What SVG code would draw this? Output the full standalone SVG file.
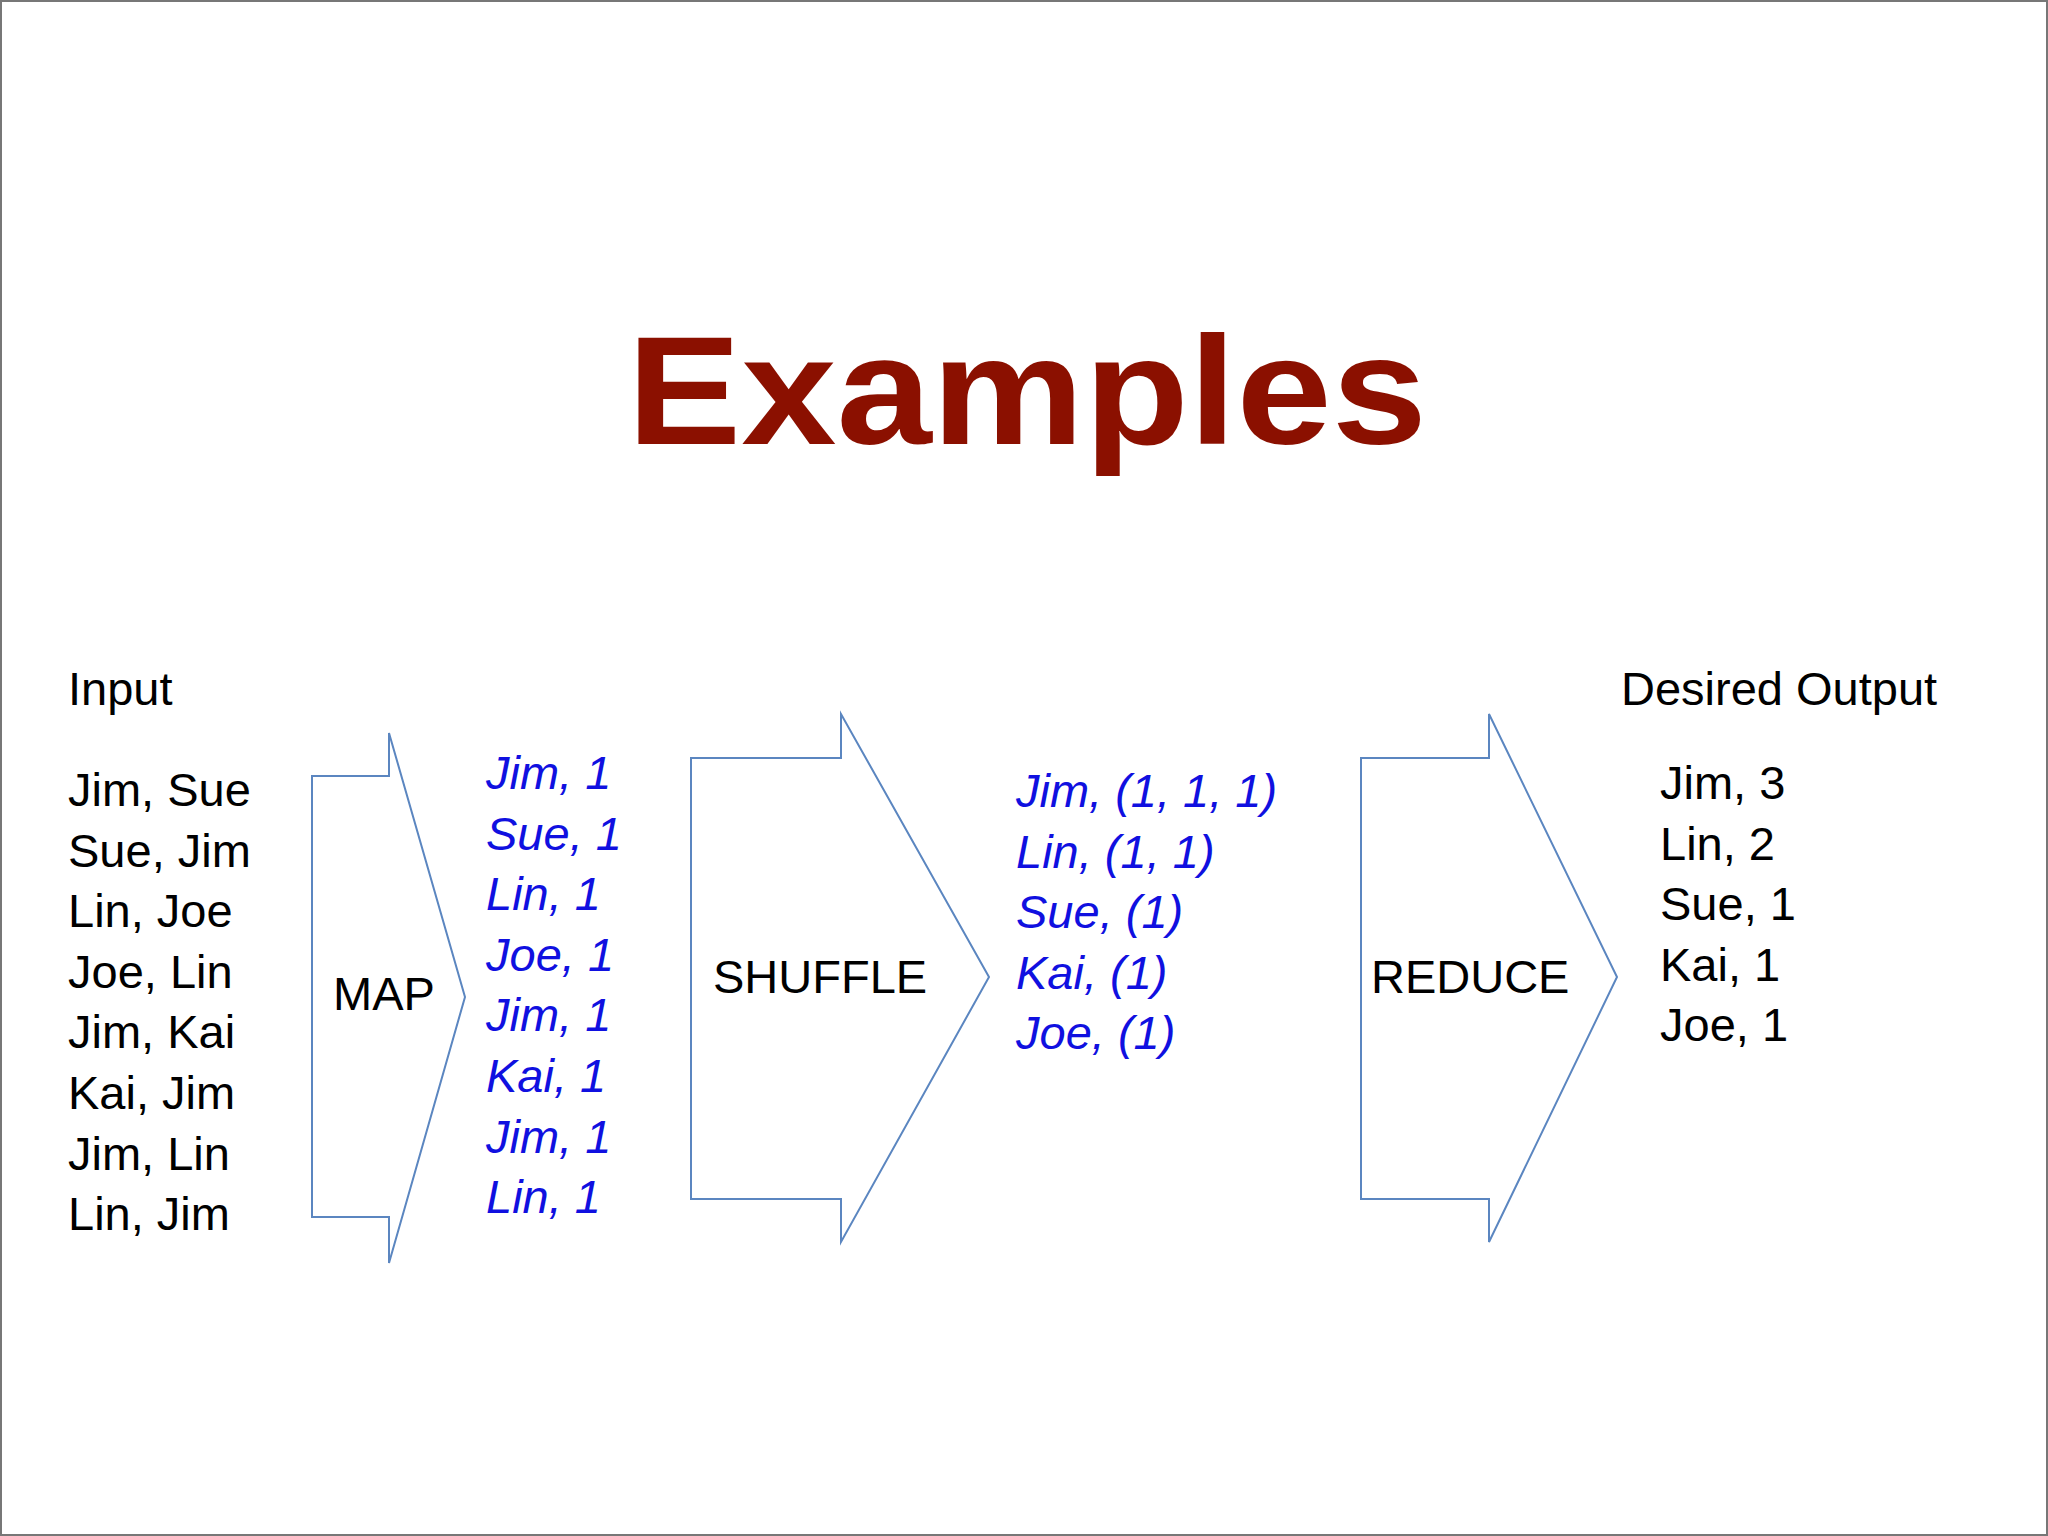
<svg xmlns="http://www.w3.org/2000/svg" width="2048" height="1536" viewBox="0 0 2048 1536">
<style>
.t{font-family:"Liberation Sans",Arial,sans-serif;font-size:47px;fill:#000}
.b{font-family:"Liberation Sans",Arial,sans-serif;font-size:47px;font-style:italic;fill:#1010E0}
.a{fill:#fff;stroke:#5B86C0;stroke-width:2}
</style>
<rect x="1" y="1" width="2046" height="1534" fill="#fff" stroke="#777" stroke-width="2"/>
<text x="1027" y="444" text-anchor="middle" textLength="800" lengthAdjust="spacingAndGlyphs" style="font-family:'Liberation Sans',Arial,sans-serif;font-weight:bold;font-size:154px;fill:#8B1000">Examples</text>
<g id="input" class="t">
<text x="68" y="705">Input</text>
<text x="68" y="806">Jim, Sue</text>
<text x="68" y="866.6">Sue, Jim</text>
<text x="68" y="927.2">Lin, Joe</text>
<text x="68" y="987.8">Joe, Lin</text>
<text x="68" y="1048.4">Jim, Kai</text>
<text x="68" y="1109">Kai, Jim</text>
<text x="68" y="1169.6">Jim, Lin</text>
<text x="68" y="1230.2">Lin, Jim</text>
</g>
<g id="connectors">
<g id="map"><polygon class="a" points="312,776 389,776 389,733 465,997 389,1263 389,1217 312,1217"/><text class="t" x="333" y="1010">MAP</text></g>
<g id="shuffle"><polygon class="a" points="691,758 841,758 841,714 989,977 841,1242 841,1199 691,1199"/><text class="t" x="713" y="993">SHUFFLE</text></g>
<g id="reduce"><polygon class="a" points="1361,758 1489,758 1489,714 1617,977 1489,1242 1489,1199 1361,1199"/><text class="t" x="1371" y="993">REDUCE</text></g>
</g>
<g id="mapped" class="b">
<text x="486" y="789">Jim, 1</text>
<text x="486" y="849.6">Sue, 1</text>
<text x="486" y="910.2">Lin, 1</text>
<text x="486" y="970.8">Joe, 1</text>
<text x="486" y="1031.4">Jim, 1</text>
<text x="486" y="1092">Kai, 1</text>
<text x="486" y="1152.6">Jim, 1</text>
<text x="486" y="1213.2">Lin, 1</text>
</g>
<g id="shuffled" class="b">
<text x="1016" y="807">Jim, (1, 1, 1)</text>
<text x="1016" y="867.6">Lin, (1, 1)</text>
<text x="1016" y="928.2">Sue, (1)</text>
<text x="1016" y="988.8">Kai, (1)</text>
<text x="1016" y="1049.4">Joe, (1)</text>
</g>
<g id="output" class="t">
<text x="1621" y="705">Desired Output</text>
<text x="1660" y="799">Jim, 3</text>
<text x="1660" y="859.6">Lin, 2</text>
<text x="1660" y="920.2">Sue, 1</text>
<text x="1660" y="980.8">Kai, 1</text>
<text x="1660" y="1041.4">Joe, 1</text>
</g>
</svg>
